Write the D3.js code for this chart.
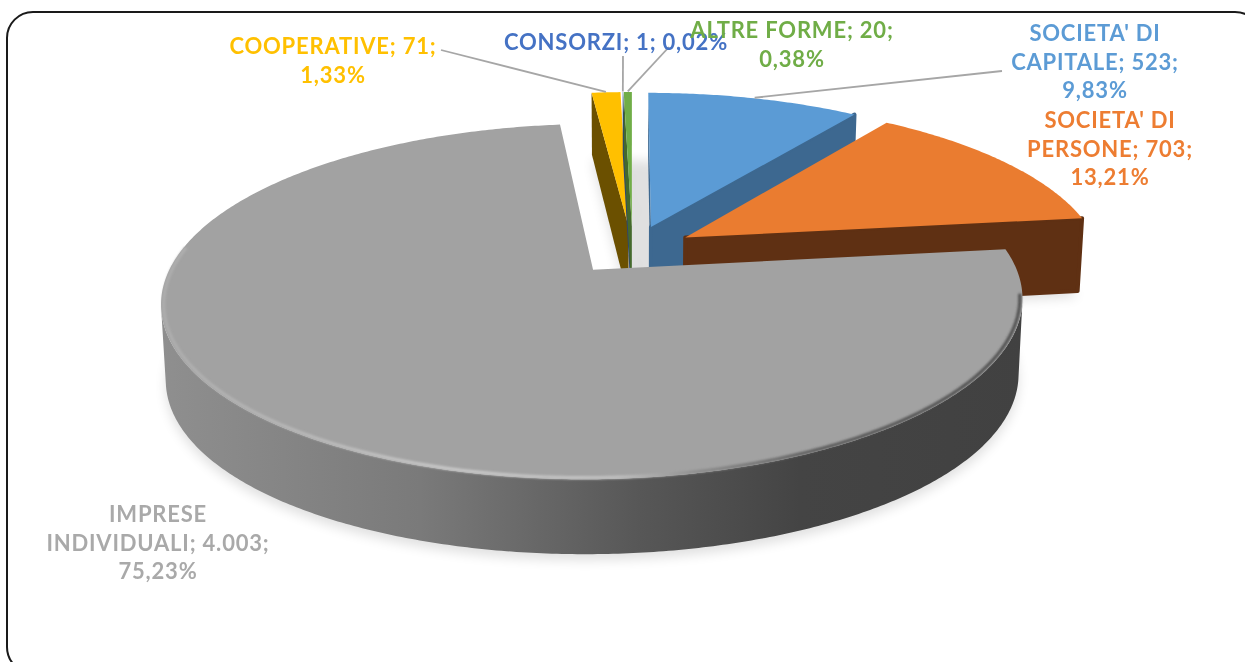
<!DOCTYPE html>
<html><head><meta charset="utf-8">
<script src="https://cdn.jsdelivr.net/npm/d3@7/dist/d3.min.js"></script>
<style>html,body{margin:0;padding:0;background:#fff;overflow:hidden}svg{display:block}text{font-family:Lato,"Open Sans",sans-serif;font-weight:700;letter-spacing:.8px}</style>
</head><body><svg id="c" width="1245" height="662"></svg>
<script>
// ---- data ----
const categories = ["SOCIETA' DI CAPITALE","SOCIETA' DI PERSONE","IMPRESE INDIVIDUALI","COOPERATIVE","CONSORZI","ALTRE FORME"];
const values = [523,703,4003,71,1,20];
const labelTemplates = ["SOCIETA' DI|CAPITALE; {v};|{p}","SOCIETA' DI|PERSONE; {v};|{p}","IMPRESE|INDIVIDUALI; {v};|{p}","COOPERATIVE; {v};|{p}","CONSORZI; {v}; {p}","ALTRE FORME; {v};|{p}"];
// ---- styles ----
const topColors = ["#5b9bd5","#ea7c30","#a2a2a2","#ffc000","#4472c4","#70ad47"];
const wallColors = ["#3d6890","#5f3013","#555555","#6b5000","#2b4476","#44692c"];
const labelColors = ["#5b9bd5","#ed7d31","#a9a9a9","#ffc000","#4472c4","#70ad47"];
const labelCenters = [[1095,41],[1110,128],[158,522],[333,54],[616,50],[792,38]];
const leaderEnds = [[1002,71],null,null,[441,50],[623,56],[669,47]];
const lineHeight = 28.6, fontSize = 22;
// ---- projection ----
const cx=632.5, cy=250, RX=415, RY=165, K=0.175, EXPLODE=0.15, D0=74.2, D1=5.66, D2=-4.46, BOTTOM=0.99;
const svg = d3.select("#c");
const fmt = d3.formatLocale({decimal:",",thousands:".",grouping:[3],currency:["",""]});
const total = d3.sum(values);
const pie = d3.pie().sort(null).startAngle(0).endAngle(2*Math.PI).value(d=>d);
const arcs = pie(values);

function project(d, a, r, bottom){
  const mid=(d.startAngle+d.endAngle)/2;
  const X=EXPLODE*Math.sin(mid)+r*Math.sin(a);
  const Z=-EXPLODE*Math.cos(mid)-r*Math.cos(a);
  const f=1/(1-K*Z);
  const sx=cx+RX*X*f*(bottom?BOTTOM:1);
  const sy=cy+RY*Z*f+(bottom?D0+D1*Z+D2*Z*Z:0);
  return [sx,sy];
}
const line = d3.line();
const samples = d => {
  const n=Math.max(2,Math.ceil((d.endAngle-d.startAngle)/0.01));
  return d3.range(n+1).map(i=>d.startAngle+(d.endAngle-d.startAngle)*i/n);
};
const polyArea = pts => d3.polygonArea(pts);

const defs = svg.append("defs");
const blur=(id,s)=>defs.append("filter").attr("id",id).attr("x","-20%").attr("y","-20%").attr("width","140%").attr("height","140%")
   .append("feGaussianBlur").attr("stdDeviation",s);
blur("sh",6); blur("rimb",1.2); blur("txt",0.45);
const grad=(id,stops)=>{const g=defs.append("linearGradient").attr("id",id).attr("gradientUnits","userSpaceOnUse")
   .attr("x1",160).attr("x2",1025).attr("y1",0).attr("y2",0);
   stops.forEach(([x,c])=>g.append("stop").attr("offset",(x-160)/865).attr("stop-color",c));};
grad("wall",[[160,"#8f8f8f"],[420,"#7a7a7a"],[640,"#575757"],[800,"#444444"],[1025,"#414141"]]);
grad("rim",[[160,"#adadad"],[300,"#b8b8b8"],[450,"#c8c8c8"],[620,"#c0c0c0"],[700,"#8c8c8c"],[820,"#5c5c5c"],[1025,"#505050"]]);

// frame
svg.append("rect").attr("x",7).attr("y",12).attr("width",1254).attr("height",661).attr("rx",26)
  .attr("fill","#fff").attr("stroke","#1a1a1a").attr("stroke-width",2);

// shadow under the pie
const shadow = svg.append("g").attr("filter","url(#sh)").attr("opacity",0.12).attr("transform","translate(0,6)");
arcs.forEach(d=>{
  const pts=[project(d,0,0,true),...samples(d).map(a=>project(d,a,1,true))];
  shadow.append("path").attr("d",line(pts)+"Z").attr("fill","#000");
});
{ // gap between the small slices and the blue slice
  const coop=arcs[3], blue=arcs[0];
  const pts=[project(coop,coop.endAngle,0,true),project(coop,coop.endAngle,1,true),project(blue,blue.startAngle,1,true),project(blue,blue.startAngle,0,true)];
  shadow.append("path").attr("d",line(pts)+"Z").attr("fill","#000");
}

// slices, back to front
const order=[3,4,5,0,1,2];
const pieG=svg.append("g");
order.forEach(i=>{
  const d=arcs[i], g=pieG.append("g");
  const wallFill = i===2 ? "url(#wall)" : wallColors[i];
  const wall = (pts,rounded) => g.append("path").attr("d",line(pts)+"Z").attr("fill",wallFill)
     .attr("stroke",rounded?wallFill:"none").attr("stroke-width",rounded?4:0).attr("stroke-linejoin","round");
  [d.startAngle,d.endAngle].forEach((a,j)=>{
    const q=[project(d,a,0,false),project(d,a,1,false),project(d,a,1,true),project(d,a,0,true)];
    const area=polyArea(q);
    if((j===0 && area>0)||(j===1 && area<0)) wall(q, j===1 && i<2); // rounded bevel on the two right-hand slices
  });
  const as=samples(d); let run=[];
  const flush=()=>{ if(run.length>1){
      wall([...run.map(a=>project(d,a,1,false)),...run.slice().reverse().map(a=>project(d,a,1,true))], false);
    } run=[]; };
  for(let n=0;n<as.length-1;n++){
    const p0=project(d,as[n],1,false),p1=project(d,as[n+1],1,false),b0=project(d,as[n],1,true);
    const cross=(p1[0]-p0[0])*(b0[1]-p0[1])-(p1[1]-p0[1])*(b0[0]-p0[0]);
    if(cross<0){ if(!run.length) run.push(as[n]); run.push(as[n+1]); } else flush();
  }
  flush();
  const topPts=[project(d,0,0,false),...as.map(a=>project(d,a,1,false))];
  g.append("path").attr("d",line(topPts)+"Z").attr("fill",topColors[i]);
  if(i===2){ // bevel along the front rim
    const rim=as.filter(a=>a>d.startAngle+0.25 && a<d.startAngle+3.4).map(a=>project(d,a,0.994,false));
    g.append("path").attr("d",line(rim)).attr("fill","none").attr("stroke","url(#rim)").attr("stroke-width",3.2).attr("filter","url(#rimb)");
  }
});

// leader lines
arcs.forEach((d,i)=>{
  if(!leaderEnds[i]) return;
  const mid=(d.startAngle+d.endAngle)/2;
  const p=project(d,mid,1.005,false);
  svg.append("path").attr("d",line([leaderEnds[i],p])).attr("fill","none").attr("stroke","#a6a6a6").attr("stroke-width",1.8);
});

// labels
const labels=svg.append("g").attr("filter","url(#txt)");
arcs.forEach((d,i)=>{
  const txt=labelTemplates[i].replace("{v}",fmt.format(",d")(d.value)).replace("{p}",fmt.format(".2f")(d.value/total*100)+"%");
  const t=labels.append("text").attr("text-anchor","middle").attr("fill",labelColors[i]).attr("font-size",fontSize);
  txt.split("|").forEach((s,j)=>t.append("tspan").attr("x",labelCenters[i][0]).attr("y",labelCenters[i][1]+j*lineHeight).text(s));
});
</script></body></html>
